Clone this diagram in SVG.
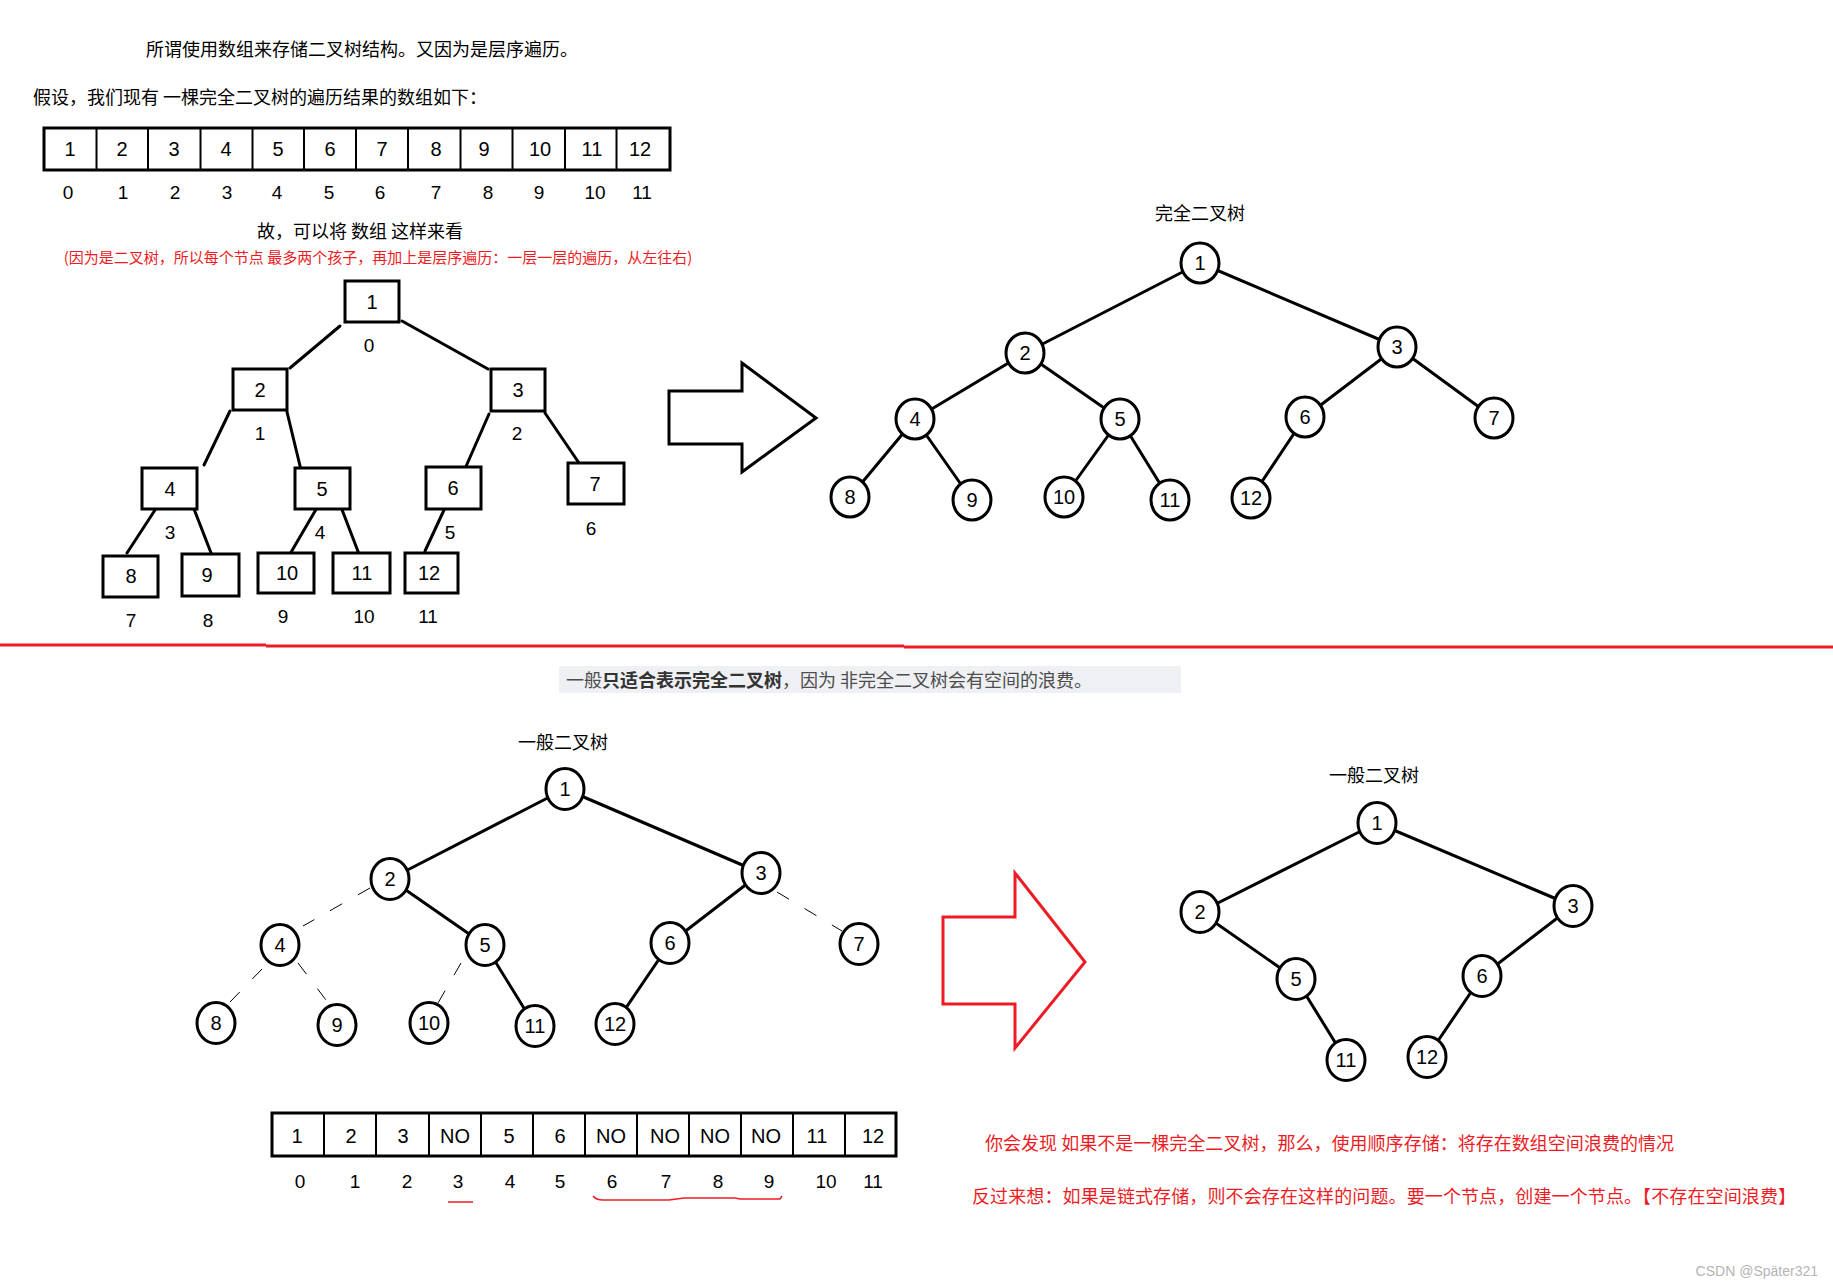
<svg xmlns="http://www.w3.org/2000/svg" width="1833" height="1287" viewBox="0 0 1833 1287">
<defs>
<style>
.t{font-family:"Noto Sans CJK SC","Noto Sans",sans-serif;font-size:18px;fill:#000}
.n{font-family:"Liberation Sans",Arial,sans-serif;font-size:20px;fill:#000;text-anchor:middle}
.i{font-family:"Liberation Sans",Arial,sans-serif;font-size:19px;fill:#000;text-anchor:middle}
.red{fill:#ed1c24}
.box{fill:#fff;stroke:#000;stroke-width:3}
.cell{stroke:#000;stroke-width:2}
.node{fill:#fff;stroke:#000;stroke-width:3}
.edge{stroke:#000;stroke-width:3;fill:none;stroke-linecap:round}
.dash{stroke:#000;stroke-width:1;stroke-dasharray:14 18;fill:none}
.rline{stroke:#ed1c24;stroke-width:3;fill:none}
</style>
</defs>
<rect width="1833" height="1287" fill="#fff"/>

<!-- texts top -->
<text class="t" x="362" y="56" text-anchor="middle">所谓使用数组来存储二叉树结构。又因为是层序遍历。</text>
<text class="t" x="33" y="104">假设，我们现有 一棵完全二叉树的遍历结果的数组如下：</text>
<text class="t" x="360" y="238" text-anchor="middle">故，可以将 数组 这样来看</text>
<text class="t red" x="378" y="263" text-anchor="middle" style="font-size:15px">(因为是二叉树，所以每个节点 最多两个孩子，再加上是层序遍历：一层一层的遍历，从左往右)</text>

<!-- top array -->
<g id="array-top">
<rect class="box" x="44" y="128" width="626" height="42"/>
<path class="cell" d="M96.5 128V170M148 128V170M200.5 128V170M252.5 128V170M304 128V170M356 128V170M408 128V170M460.5 128V170M512.5 128V170M565 128V170M616.5 128V170"/>
<text class="n" x="70" y="156">1</text><text class="n" x="122" y="156">2</text><text class="n" x="174" y="156">3</text><text class="n" x="226" y="156">4</text><text class="n" x="278" y="156">5</text><text class="n" x="330" y="156">6</text><text class="n" x="382" y="156">7</text><text class="n" x="436" y="156">8</text><text class="n" x="484" y="156">9</text><text class="n" x="540" y="156">10</text><text class="n" x="592" y="156">11</text><text class="n" x="640" y="156">12</text>
<text class="i" x="68" y="199">0</text><text class="i" x="123" y="199">1</text><text class="i" x="175" y="199">2</text><text class="i" x="227" y="199">3</text><text class="i" x="277" y="199">4</text><text class="i" x="329" y="199">5</text><text class="i" x="380" y="199">6</text><text class="i" x="436" y="199">7</text><text class="i" x="488" y="199">8</text><text class="i" x="539" y="199">9</text><text class="i" x="595" y="199">10</text><text class="i" x="642" y="199">11</text>
</g>

<!-- connectors -->
<g id="connectors">
<!-- top-left box tree -->
<line class="edge" x1="340" y1="326" x2="290" y2="368"/>
<line class="edge" x1="402" y1="321" x2="488" y2="369"/>
<line class="edge" x1="230" y1="411" x2="204" y2="465"/>
<line class="edge" x1="287" y1="412" x2="301" y2="470"/>
<line class="edge" x1="489" y1="414" x2="464" y2="471"/>
<line class="edge" x1="545" y1="413" x2="579" y2="463"/>
<line class="edge" x1="155" y1="510" x2="127" y2="553"/>
<line class="edge" x1="194" y1="509" x2="213" y2="558"/>
<line class="edge" x1="318" y1="506" x2="290" y2="554"/>
<line class="edge" x1="341" y1="507" x2="359" y2="554"/>
<line class="edge" x1="444" y1="510" x2="425" y2="551"/>
<!-- top-right circle tree -->
<line class="edge" x1="1200" y1="263" x2="1025" y2="353"/>
<line class="edge" x1="1200" y1="263" x2="1397" y2="347"/>
<line class="edge" x1="1025" y1="353" x2="915" y2="419"/>
<line class="edge" x1="1025" y1="353" x2="1120" y2="419"/>
<line class="edge" x1="1397" y1="347" x2="1305" y2="417"/>
<line class="edge" x1="1397" y1="347" x2="1494" y2="418"/>
<line class="edge" x1="915" y1="419" x2="850" y2="497"/>
<line class="edge" x1="915" y1="419" x2="972" y2="500"/>
<line class="edge" x1="1120" y1="419" x2="1064" y2="497"/>
<line class="edge" x1="1120" y1="419" x2="1170" y2="500"/>
<line class="edge" x1="1305" y1="417" x2="1251" y2="498"/>
<!-- bottom-left tree -->
<line class="edge" x1="565" y1="789" x2="390" y2="879"/>
<line class="edge" x1="565" y1="789" x2="761" y2="873"/>
<line class="edge" x1="390" y1="879" x2="485" y2="945"/>
<line class="edge" x1="761" y1="873" x2="670" y2="943"/>
<line class="edge" x1="485" y1="945" x2="535" y2="1026"/>
<line class="edge" x1="670" y1="943" x2="615" y2="1024"/>
<line class="dash" x1="370" y1="888" x2="303" y2="926"/>
<line class="dash" x1="777" y1="892" x2="842" y2="931"/>
<line class="dash" x1="262" y1="969" x2="230" y2="1002"/>
<line class="dash" x1="298" y1="963" x2="329" y2="1004"/>
<line class="dash" x1="461" y1="963" x2="438" y2="1003"/>
<!-- bottom-right tree -->
<line class="edge" x1="1377" y1="823" x2="1200" y2="912"/>
<line class="edge" x1="1377" y1="823" x2="1573" y2="906"/>
<line class="edge" x1="1200" y1="912" x2="1296" y2="979"/>
<line class="edge" x1="1296" y1="979" x2="1346" y2="1060"/>
<line class="edge" x1="1573" y1="906" x2="1482" y2="976"/>
<line class="edge" x1="1482" y1="976" x2="1427" y2="1057"/>
</g>

<!-- top-left box tree nodes -->
<g id="tl-n1"><rect class="box" x="345" y="281" width="54" height="41"/><text class="n" x="372" y="309">1</text><text class="i" x="369" y="352">0</text></g>
<g id="tl-n2"><rect class="box" x="233" y="369" width="54" height="41"/><text class="n" x="260" y="397">2</text><text class="i" x="260" y="440">1</text></g>
<g id="tl-n3"><rect class="box" x="491" y="369" width="54" height="42"/><text class="n" x="518" y="397">3</text><text class="i" x="517" y="440">2</text></g>
<g id="tl-n4"><rect class="box" x="142" y="468" width="55" height="41"/><text class="n" x="170" y="496">4</text><text class="i" x="170" y="539">3</text></g>
<g id="tl-n5"><rect class="box" x="295" y="468" width="55" height="41"/><text class="n" x="322" y="496">5</text><text class="i" x="320" y="539">4</text></g>
<g id="tl-n6"><rect class="box" x="426" y="467" width="55" height="42"/><text class="n" x="453" y="495">6</text><text class="i" x="450" y="539">5</text></g>
<g id="tl-n7"><rect class="box" x="568" y="463" width="56" height="41"/><text class="n" x="595" y="491">7</text><text class="i" x="591" y="535">6</text></g>
<g id="tl-n8"><rect class="box" x="103" y="556" width="55" height="41"/><text class="n" x="131" y="583">8</text><text class="i" x="131" y="627">7</text></g>
<g id="tl-n9"><rect class="box" x="182" y="554" width="57" height="42"/><text class="n" x="207" y="582">9</text><text class="i" x="208" y="627">8</text></g>
<g id="tl-n10"><rect class="box" x="258" y="553" width="56" height="40"/><text class="n" x="287" y="580">10</text><text class="i" x="283" y="623">9</text></g>
<g id="tl-n11"><rect class="box" x="333" y="553" width="57" height="40"/><text class="n" x="362" y="580">11</text><text class="i" x="364" y="623">10</text></g>
<g id="tl-n12"><rect class="box" x="405" y="553" width="53" height="40"/><text class="n" x="429" y="580">12</text><text class="i" x="428" y="623">11</text></g>

<!-- black arrow -->
<g id="arrow-top"><polygon points="669,391 742,391 742,363 816,418 742,472 742,444 669,444" fill="#fff" stroke="#000" stroke-width="3"/></g>

<!-- top-right tree -->
<text class="t" x="1200" y="220" text-anchor="middle">完全二叉树</text>
<g id="tr-n1"><ellipse class="node" cx="1200" cy="263" rx="19" ry="20"/><text class="n" x="1200" y="270">1</text></g>
<g id="tr-n2"><ellipse class="node" cx="1025" cy="353" rx="19" ry="20"/><text class="n" x="1025" y="360">2</text></g>
<g id="tr-n3"><ellipse class="node" cx="1397" cy="347" rx="19" ry="20"/><text class="n" x="1397" y="354">3</text></g>
<g id="tr-n4"><ellipse class="node" cx="915" cy="419" rx="19" ry="20"/><text class="n" x="915" y="426">4</text></g>
<g id="tr-n5"><ellipse class="node" cx="1120" cy="419" rx="19" ry="20"/><text class="n" x="1120" y="426">5</text></g>
<g id="tr-n6"><ellipse class="node" cx="1305" cy="417" rx="19" ry="20"/><text class="n" x="1305" y="424">6</text></g>
<g id="tr-n7"><ellipse class="node" cx="1494" cy="418" rx="19" ry="20"/><text class="n" x="1494" y="425">7</text></g>
<g id="tr-n8"><ellipse class="node" cx="850" cy="497" rx="19" ry="20"/><text class="n" x="850" y="504">8</text></g>
<g id="tr-n9"><ellipse class="node" cx="972" cy="500" rx="19" ry="20"/><text class="n" x="972" y="507">9</text></g>
<g id="tr-n10"><ellipse class="node" cx="1064" cy="497" rx="19" ry="20"/><text class="n" x="1064" y="504">10</text></g>
<g id="tr-n11"><ellipse class="node" cx="1170" cy="500" rx="19" ry="20"/><text class="n" x="1170" y="507">11</text></g>
<g id="tr-n12"><ellipse class="node" cx="1251" cy="498" rx="19" ry="20"/><text class="n" x="1251" y="505">12</text></g>

<!-- red separator -->
<path class="rline" d="M0 645H266M266 646H904M904 647H1833"/>

<!-- highlight note -->
<rect x="559" y="666" width="622" height="27" fill="#eef0f4"/>
<text class="t" x="566" y="687" fill="#4d4d4d" style="fill:#4d4d4d">一般<tspan font-weight="bold" style="fill:#333">只适合表示完全二叉树</tspan>，因为 非完全二叉树会有空间的浪费。</text>

<!-- bottom-left tree -->
<text class="t" x="563" y="749" text-anchor="middle">一般二叉树</text>
<g id="bl-n1"><ellipse class="node" cx="565" cy="789" rx="19" ry="20.5"/><text class="n" x="565" y="796">1</text></g>
<g id="bl-n2"><ellipse class="node" cx="390" cy="879" rx="19" ry="20.5"/><text class="n" x="390" y="886">2</text></g>
<g id="bl-n3"><ellipse class="node" cx="761" cy="873" rx="19" ry="20.5"/><text class="n" x="761" y="880">3</text></g>
<g id="bl-n4"><ellipse class="node" cx="280" cy="945" rx="19" ry="20.5"/><text class="n" x="280" y="952">4</text></g>
<g id="bl-n5"><ellipse class="node" cx="485" cy="945" rx="19" ry="20.5"/><text class="n" x="485" y="952">5</text></g>
<g id="bl-n6"><ellipse class="node" cx="670" cy="943" rx="19" ry="20.5"/><text class="n" x="670" y="950">6</text></g>
<g id="bl-n7"><ellipse class="node" cx="859" cy="944" rx="19" ry="20.5"/><text class="n" x="859" y="951">7</text></g>
<g id="bl-n8"><ellipse class="node" cx="216" cy="1023" rx="19" ry="20.5"/><text class="n" x="216" y="1030">8</text></g>
<g id="bl-n9"><ellipse class="node" cx="337" cy="1025" rx="19" ry="20.5"/><text class="n" x="337" y="1032">9</text></g>
<g id="bl-n10"><ellipse class="node" cx="429" cy="1023" rx="19" ry="20.5"/><text class="n" x="429" y="1030">10</text></g>
<g id="bl-n11"><ellipse class="node" cx="535" cy="1026" rx="19" ry="20.5"/><text class="n" x="535" y="1033">11</text></g>
<g id="bl-n12"><ellipse class="node" cx="615" cy="1024" rx="19" ry="20.5"/><text class="n" x="615" y="1031">12</text></g>

<!-- red arrow -->
<g id="arrow-red"><polygon points="943,917 1015,917 1015,873 1085,962 1015,1048 1015,1004 943,1004" fill="#fff" stroke="#ed1c24" stroke-width="3"/></g>

<!-- bottom-right tree -->
<text class="t" x="1374" y="782" text-anchor="middle">一般二叉树</text>
<g id="br-n1"><ellipse class="node" cx="1377" cy="823" rx="19" ry="20.5"/><text class="n" x="1377" y="830">1</text></g>
<g id="br-n2"><ellipse class="node" cx="1200" cy="912" rx="19" ry="20.5"/><text class="n" x="1200" y="919">2</text></g>
<g id="br-n3"><ellipse class="node" cx="1573" cy="906" rx="19" ry="20.5"/><text class="n" x="1573" y="913">3</text></g>
<g id="br-n5"><ellipse class="node" cx="1296" cy="979" rx="19" ry="20.5"/><text class="n" x="1296" y="986">5</text></g>
<g id="br-n6"><ellipse class="node" cx="1482" cy="976" rx="19" ry="20.5"/><text class="n" x="1482" y="983">6</text></g>
<g id="br-n11"><ellipse class="node" cx="1346" cy="1060" rx="19" ry="20.5"/><text class="n" x="1346" y="1067">11</text></g>
<g id="br-n12"><ellipse class="node" cx="1427" cy="1057" rx="19" ry="20.5"/><text class="n" x="1427" y="1064">12</text></g>

<!-- bottom array -->
<g id="array-bottom">
<rect class="box" x="272" y="1113" width="624" height="43"/>
<path class="cell" d="M324 1113V1156M376 1113V1156M429 1113V1156M481 1113V1156M533 1113V1156M585 1113V1156M637 1113V1156M689 1113V1156M741 1113V1156M793 1113V1156M845 1113V1156"/>
<text class="n" x="297" y="1143">1</text><text class="n" x="351" y="1143">2</text><text class="n" x="403" y="1143">3</text><text class="n" x="455" y="1143">NO</text><text class="n" x="509" y="1143">5</text><text class="n" x="560" y="1143">6</text><text class="n" x="611" y="1143">NO</text><text class="n" x="665" y="1143">NO</text><text class="n" x="715" y="1143">NO</text><text class="n" x="766" y="1143">NO</text><text class="n" x="817" y="1143">11</text><text class="n" x="873" y="1143">12</text>
<text class="i" x="300" y="1188">0</text><text class="i" x="355" y="1188">1</text><text class="i" x="407" y="1188">2</text><text class="i" x="458" y="1188">3</text><text class="i" x="510" y="1188">4</text><text class="i" x="560" y="1188">5</text><text class="i" x="612" y="1188">6</text><text class="i" x="666" y="1188">7</text><text class="i" x="718" y="1188">8</text><text class="i" x="769" y="1188">9</text><text class="i" x="826" y="1188">10</text><text class="i" x="873" y="1188">11</text>
<path d="M448 1202H473" stroke="#ed1c24" stroke-width="1.5" fill="none"/>
<path d="M593 1196Q596 1200 603 1200H669L684 1198H735L740 1199H780L782 1196" stroke="#ed1c24" stroke-width="1.5" fill="none"/>
</g>

<!-- red notes -->
<text class="t red" x="985" y="1150" textLength="689" lengthAdjust="spacing">你会发现 如果不是一棵完全二叉树，那么，使用顺序存储：将存在数组空间浪费的情况</text>
<text class="t red" x="972" y="1203" textLength="824" lengthAdjust="spacing">反过来想：如果是链式存储，则不会存在这样的问题。要一个节点，创建一个节点。【不存在空间浪费】</text>

<text x="1818" y="1276" text-anchor="end" style="font-family:'Liberation Sans',Arial,sans-serif;font-size:14px;fill:#b4b4b4">CSDN @Später321</text>
</svg>
